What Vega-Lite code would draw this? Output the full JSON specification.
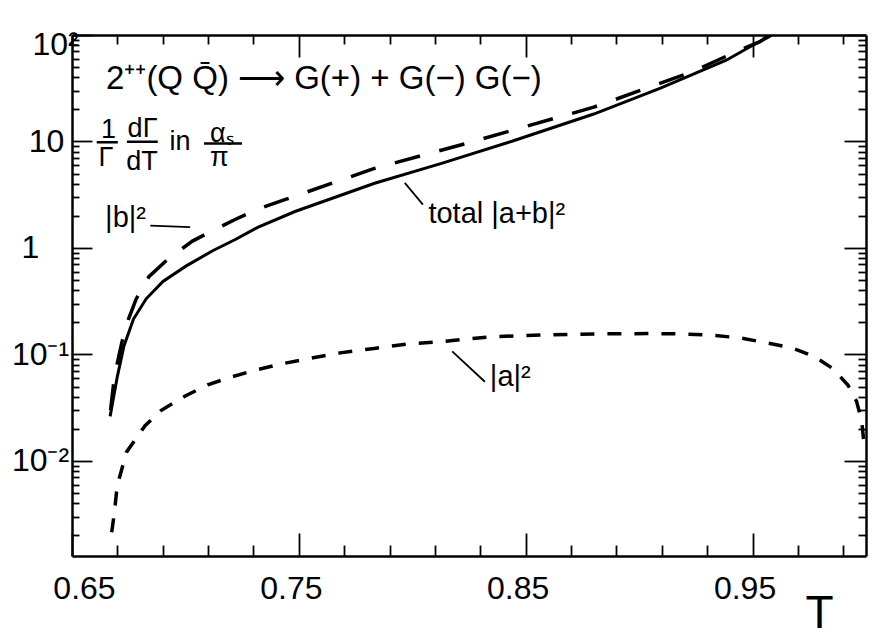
{
  "$schema": "https://vega.github.io/schema/vega-lite/v6.json",
  "width": 794,
  "height": 521,
  "autosize": {"type": "none"},
  "padding": {"left": 72, "top": 35, "right": 14, "bottom": 82},
  "background": "white",
  "config": {
    "view": {"stroke": null},
    "axis": {"grid": false, "domainColor": "black", "domainWidth": 2.5, "tickColor": "black", "tickWidth": 1.8, "labelColor": "black", "labelFont": "Liberation Sans Narrow, Liberation Sans, sans-serif", "labelFontSize": 32, "titleColor": "black", "labelOverlap": false, "labelFlush": false}
  },
  "datasets": {
    "curves": [
      {"curve": "total", "T": 0.6668, "v": 0.0262},
      {"curve": "total", "T": 0.6700, "v": 0.0623},
      {"curve": "total", "T": 0.6729, "v": 0.120},
      {"curve": "total", "T": 0.6771, "v": 0.215},
      {"curve": "total", "T": 0.6827, "v": 0.333},
      {"curve": "total", "T": 0.6901, "v": 0.484},
      {"curve": "total", "T": 0.7002, "v": 0.675},
      {"curve": "total", "T": 0.7120, "v": 0.942},
      {"curve": "total", "T": 0.7220, "v": 1.20},
      {"curve": "total", "T": 0.7321, "v": 1.57},
      {"curve": "total", "T": 0.7483, "v": 2.20},
      {"curve": "total", "T": 0.7834, "v": 4.05},
      {"curve": "total", "T": 0.8129, "v": 6.23},
      {"curve": "total", "T": 0.8436, "v": 10.0},
      {"curve": "total", "T": 0.8800, "v": 18.1},
      {"curve": "total", "T": 0.9094, "v": 31.7},
      {"curve": "total", "T": 0.9384, "v": 58.0},
      {"curve": "total", "T": 0.9489, "v": 77.6},
      {"curve": "total", "T": 0.9567, "v": 94.8},
      {"curve": "total", "T": 0.9585, "v": 100},
      {"curve": "b", "T": 0.6670, "v": 0.030},
      {"curve": "b", "T": 0.6687, "v": 0.0624},
      {"curve": "b", "T": 0.6720, "v": 0.1305},
      {"curve": "b", "T": 0.6749, "v": 0.215},
      {"curve": "b", "T": 0.6783, "v": 0.332},
      {"curve": "b", "T": 0.6839, "v": 0.537},
      {"curve": "b", "T": 0.6926, "v": 0.797},
      {"curve": "b", "T": 0.7031, "v": 1.16},
      {"curve": "b", "T": 0.7118, "v": 1.45},
      {"curve": "b", "T": 0.7219, "v": 1.85},
      {"curve": "b", "T": 0.7320, "v": 2.32},
      {"curve": "b", "T": 0.7438, "v": 2.84},
      {"curve": "b", "T": 0.7833, "v": 5.58},
      {"curve": "b", "T": 0.8229, "v": 9.48},
      {"curve": "b", "T": 0.8800, "v": 21.0},
      {"curve": "b", "T": 0.9019, "v": 30.9},
      {"curve": "b", "T": 0.9226, "v": 44.4},
      {"curve": "b", "T": 0.9445, "v": 72.4},
      {"curve": "b", "T": 0.9532, "v": 86.7},
      {"curve": "b", "T": 0.9575, "v": 100},
      {"curve": "a", "T": 0.6675, "v": 0.00214},
      {"curve": "a", "T": 0.6687, "v": 0.00329},
      {"curve": "a", "T": 0.6699, "v": 0.00578},
      {"curve": "a", "T": 0.6740, "v": 0.0121},
      {"curve": "a", "T": 0.6822, "v": 0.0214},
      {"curve": "a", "T": 0.6892, "v": 0.0297},
      {"curve": "a", "T": 0.6997, "v": 0.0405},
      {"curve": "a", "T": 0.7098, "v": 0.0519},
      {"curve": "a", "T": 0.7194, "v": 0.0607},
      {"curve": "a", "T": 0.7309, "v": 0.0713},
      {"curve": "a", "T": 0.7427, "v": 0.0819},
      {"curve": "a", "T": 0.7550, "v": 0.0919},
      {"curve": "a", "T": 0.7682, "v": 0.1035},
      {"curve": "a", "T": 0.7832, "v": 0.114},
      {"curve": "a", "T": 0.7986, "v": 0.126},
      {"curve": "a", "T": 0.8118, "v": 0.131},
      {"curve": "a", "T": 0.8242, "v": 0.140},
      {"curve": "a", "T": 0.8361, "v": 0.147},
      {"curve": "a", "T": 0.8594, "v": 0.153},
      {"curve": "a", "T": 0.8815, "v": 0.156},
      {"curve": "a", "T": 0.9066, "v": 0.157},
      {"curve": "a", "T": 0.9181, "v": 0.156},
      {"curve": "a", "T": 0.9313, "v": 0.152},
      {"curve": "a", "T": 0.9446, "v": 0.143},
      {"curve": "a", "T": 0.9557, "v": 0.129},
      {"curve": "a", "T": 0.9676, "v": 0.115},
      {"curve": "a", "T": 0.9774, "v": 0.0951},
      {"curve": "a", "T": 0.9854, "v": 0.0737},
      {"curve": "a", "T": 0.9921, "v": 0.0514},
      {"curve": "a", "T": 0.9958, "v": 0.0365},
      {"curve": "a", "T": 0.9981, "v": 0.0237},
      {"curve": "a", "T": 0.9991, "v": 0.0147}
    ],
    "fraction": [
      {"t": "1", "T": 0.6661, "v": 12.7},
      {"t": "Γ", "T": 0.6650, "v": 6.93},
      {"t": "dΓ", "T": 0.6811, "v": 13.2},
      {"t": "dT", "T": 0.6809, "v": 6.44},
      {"t": "in", "T": 0.6976, "v": 9.84},
      {"t": "αₛ", "T": 0.7160, "v": 11.8},
      {"t": "π", "T": 0.7149, "v": 7.05}
    ],
    "bars": [
      {"T1": 0.6609, "T2": 0.6702, "v": 9.83},
      {"T1": 0.6742, "T2": 0.6878, "v": 9.94},
      {"T1": 0.7082, "T2": 0.7249, "v": 9.55}
    ],
    "leaders": [
      {"T1": 0.6845, "v1": 1.62, "T2": 0.7021, "v2": 1.57},
      {"T1": 0.7967, "v1": 4.09, "T2": 0.8047, "v2": 2.55},
      {"T1": 0.8176, "v1": 0.107, "T2": 0.8320, "v2": 0.0554}
    ],
    "notes": [
      {"t": "|b|²", "T": 0.6646, "v": 1.56},
      {"t": "total |a+b|²", "T": 0.8071, "v": 1.73},
      {"t": "|a|²", "T": 0.8342, "v": 0.0509}
    ],
    "heading": [
      {"t": "2\u207a\u207a(Q Q\u0304) \u27f6 G(+) + G(\u2212) G(\u2212)", "T": 0.665, "v": 30.8}
    ]
  },
  "layer": [
    {
      "data": {"name": "curves"},
      "transform": [{"filter": "datum.curve == 'total'"}],
      "mark": {"type": "line", "color": "black", "strokeWidth": 3, "clip": true},
      "encoding": {
        "x": {"field": "T", "type": "quantitative",
          "scale": {"domain": [0.65, 1.0], "nice": false, "zero": false},
          "axis": {"orient": "bottom", "values": [0.65,0.67,0.69,0.71,0.73,0.75,0.77,0.79,0.81,0.83,0.85,0.87,0.89,0.91,0.93,0.95,0.97,0.99],
            "labelExpr": "(datum.value == 0.65 || datum.value == 0.75 || datum.value == 0.85 || datum.value == 0.95) ? format(datum.value, '.2f') : ''",
            "tickSize": {"condition": {"test": "datum.value == 0.65 || datum.value == 0.75 || datum.value == 0.85 || datum.value == 0.95", "value": -23}, "value": -11},
            "labelBaseline": "top", "labelPadding": 40,
            "labelOffset": {"condition": {"test": "datum.value == 0.65", "value": 12}, "value": -8},
            "title": "T", "titleFont": "Liberation Sans, sans-serif", "titleFontSize": 46, "titleFontWeight": "normal",
            "titleX": 747, "titleY": 35, "titleAlign": "center", "titleBaseline": "top"}},
        "y": {"field": "v", "type": "quantitative",
          "scale": {"type": "log", "domain": [0.00128, 100], "nice": false},
          "axis": {"orient": "left", "values": [0.002,0.003,0.004,0.005,0.006,0.007,0.008,0.009,0.01,0.02,0.03,0.04,0.05,0.06,0.07,0.08,0.09,0.1,0.2,0.3,0.4,0.5,0.6,0.7,0.8,0.9,1,2,3,4,5,6,7,8,9,10,20,30,40,50,60,70,80,90,100],
            "labelExpr": "datum.value == 100 ? '10²' : datum.value == 10 ? '10' : datum.value == 1 ? '1' : datum.value == 0.1 ? '10⁻¹' : datum.value == 0.01 ? '10⁻²' : ''",
            "tickSize": {"condition": {"test": "datum.value == 100 || datum.value == 10 || datum.value == 1 || datum.value == 0.1 || datum.value == 0.01", "value": -20}, "value": -7},
            "labelAlign": "center", "labelBaseline": "middle",
            "labelPadding": {"condition": [{"test": "datum.value == 100", "value": 37}, {"test": "datum.value == 10", "value": 46}, {"test": "datum.value == 1", "value": 62}], "value": 52},
            "labelOffset": {"condition": {"test": "datum.value == 100", "value": 9}, "value": 0},
            "title": null}}
      }
    },
    {
      "data": {"name": "curves"},
      "transform": [{"filter": "datum.curve == 'b'"}],
      "mark": {"type": "line", "color": "black", "strokeWidth": 3.5, "strokeDash": [26, 20], "clip": true},
      "encoding": {
        "x": {"field": "T", "type": "quantitative",
          "scale": {"domain": [0.65, 1.0], "nice": false, "zero": false},
          "axis": {"orient": "top", "values": [0.65,0.67,0.69,0.71,0.73,0.75,0.77,0.79,0.81,0.83,0.85,0.87,0.89,0.91,0.93,0.95,0.97,0.99], "labels": false, "title": null,
            "tickSize": {"condition": {"test": "datum.value == 0.75 || datum.value == 0.85 || datum.value == 0.95", "value": -22}, "value": -9}}},
        "y": {"field": "v", "type": "quantitative",
          "scale": {"type": "log", "domain": [0.00128, 100], "nice": false},
          "axis": {"orient": "right", "values": [0.002,0.003,0.004,0.005,0.006,0.007,0.008,0.009,0.01,0.02,0.03,0.04,0.05,0.06,0.07,0.08,0.09,0.1,0.2,0.3,0.4,0.5,0.6,0.7,0.8,0.9,1,2,3,4,5,6,7,8,9,10,20,30,40,50,60,70,80,90,100], "labels": false, "title": null,
            "tickSize": {"condition": {"test": "datum.value == 100 || datum.value == 10 || datum.value == 1 || datum.value == 0.1 || datum.value == 0.01", "value": -22}, "value": -8}}}
      }
    },
    {
      "data": {"name": "curves"},
      "transform": [{"filter": "datum.curve == 'a'"}],
      "mark": {"type": "line", "color": "black", "strokeWidth": 3.5, "strokeDash": [14, 13], "clip": true},
      "encoding": {
        "x": {"field": "T", "type": "quantitative", "scale": {"domain": [0.65, 1.0], "nice": false, "zero": false}, "axis": null},
        "y": {"field": "v", "type": "quantitative", "scale": {"type": "log", "domain": [0.00128, 100], "nice": false}, "axis": null}
      }
    },
    {
      "data": {"name": "bars"},
      "mark": {"type": "rule", "color": "black", "strokeWidth": 2.5},
      "encoding": {
        "x": {"field": "T1", "type": "quantitative", "scale": {"domain": [0.65, 1.0], "nice": false, "zero": false}, "axis": null},
        "x2": {"field": "T2"},
        "y": {"field": "v", "type": "quantitative", "scale": {"type": "log", "domain": [0.00128, 100], "nice": false}, "axis": null}
      }
    },
    {
      "data": {"name": "leaders"},
      "mark": {"type": "rule", "color": "black", "strokeWidth": 1.8},
      "encoding": {
        "x": {"field": "T1", "type": "quantitative", "scale": {"domain": [0.65, 1.0], "nice": false, "zero": false}, "axis": null},
        "x2": {"field": "T2"},
        "y": {"field": "v1", "type": "quantitative", "scale": {"type": "log", "domain": [0.00128, 100], "nice": false}, "axis": null},
        "y2": {"field": "v2"}
      }
    },
    {
      "data": {"name": "fraction"},
      "mark": {"type": "text", "color": "black", "font": "Liberation Sans, sans-serif", "fontSize": 27, "align": "center", "baseline": "middle"},
      "encoding": {
        "x": {"field": "T", "type": "quantitative", "scale": {"domain": [0.65, 1.0], "nice": false, "zero": false}, "axis": null},
        "y": {"field": "v", "type": "quantitative", "scale": {"type": "log", "domain": [0.00128, 100], "nice": false}, "axis": null},
        "text": {"field": "t"}
      }
    },
    {
      "data": {"name": "notes"},
      "mark": {"type": "text", "color": "black", "font": "Liberation Sans, sans-serif", "fontSize": 29, "align": "left", "baseline": "alphabetic"},
      "encoding": {
        "x": {"field": "T", "type": "quantitative", "scale": {"domain": [0.65, 1.0], "nice": false, "zero": false}, "axis": null},
        "y": {"field": "v", "type": "quantitative", "scale": {"type": "log", "domain": [0.00128, 100], "nice": false}, "axis": null},
        "text": {"field": "t"}
      }
    },
    {
      "data": {"name": "heading"},
      "mark": {"type": "text", "color": "black", "font": "Liberation Sans, sans-serif", "fontSize": 33, "align": "left", "baseline": "alphabetic"},
      "encoding": {
        "x": {"field": "T", "type": "quantitative", "scale": {"domain": [0.65, 1.0], "nice": false, "zero": false}, "axis": null},
        "y": {"field": "v", "type": "quantitative", "scale": {"type": "log", "domain": [0.00128, 100], "nice": false}, "axis": null},
        "text": {"field": "t"}
      }
    }
  ],
  "resolve": {"axis": {"x": "independent", "y": "independent"}}
}
